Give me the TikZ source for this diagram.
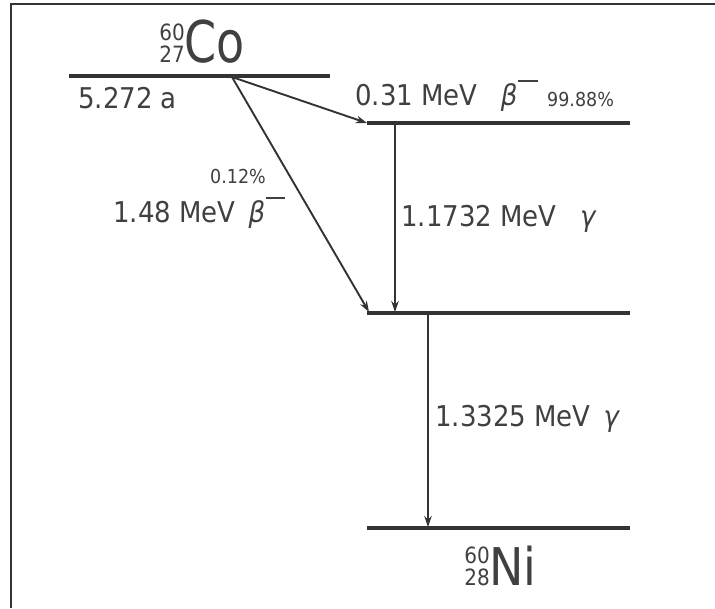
\documentclass[tikz,border=0pt]{standalone}
\usepackage{fontspec}
\setmainfont{DejaVu Sans}
\usetikzlibrary{arrows.meta}
\definecolor{ink}{HTML}{333333}
\definecolor{txt}{HTML}{404040}
\newcommand\ysc[2]{\scalebox{1}[#1]{#2}}
\newcommand\betam{{\itshape β}\kern0.5pt\rule[0.8em]{0.75em}{0.08em}}
\begin{document}
\begin{tikzpicture}[x=1pt,y=-1pt,
  level/.style={draw=ink, line width=3.2pt},
  trans/.style={draw=ink, line width=1.9pt, -{Stealth[length=11pt,width=7.5pt]}},
  lbl/.style={text=txt, inner sep=0pt, font=\fontsize{26}{30}\selectfont},
  small/.style={text=txt, inner sep=0pt, font=\fontsize{17.5}{20}\selectfont},
  iso/.style={text=txt, inner sep=0pt, font=\fontsize{20}{24}\selectfont},
  elem/.style={text=txt, inner sep=0pt, font=\fontsize{46}{50}\selectfont},
  frame/.style={draw=ink, line width=2.8pt}]
\fill[white] (0,0) rectangle (715,608);
\useasboundingbox (0,0) rectangle (715,608);
% frame
\coordinate (fr-tr) at (715,4);
\coordinate (fr-tl) at (11,4);
\coordinate (fr-bl) at (11,608);
\draw[frame] (fr-tr) -- (fr-tl) -- (fr-bl);
% levels
\coordinate (co-l) at (69,76);   \coordinate (co-r) at (330,76);
\coordinate (a-l) at (367,123);  \coordinate (a-r) at (630,123);
\coordinate (b-l) at (367,313);  \coordinate (b-r) at (630,313);
\coordinate (g-l) at (367,528);  \coordinate (g-r) at (630,528);
\draw[level] (co-l) -- (co-r);
\draw[level] (a-l) -- (a-r);
\draw[level] (b-l) -- (b-r);
\draw[level] (g-l) -- (g-r);
% transitions
\coordinate (src) at (232,77);
\coordinate (b-in) at (369,312);
\coordinate (g1-top) at (395,124); \coordinate (g1-bot) at (395,312);
\coordinate (g2-top) at (428,314); \coordinate (g2-bot) at (428,527);
\draw[trans] (src) -- (a-l);
\draw[trans] (src) -- (b-in);
\draw[trans] (g1-top) -- (g1-bot);
\draw[trans] (g2-top) -- (g2-bot);
% element labels
\node[elem, anchor=base west] (co) at (184,62) {\ysc{1.25}{Co}};
\node[iso, anchor=base east] (co-a) at (185,40) {\ysc{1.12}{60}};
\node[iso, anchor=base east] (co-z) at (185,62) {\ysc{1.12}{27}};
\node[elem, anchor=base west] (ni) at (489,585) {\ysc{1.13}{Ni}};
\node[iso, anchor=base east] (ni-a) at (490,563) {\ysc{1.12}{60}};
\node[iso, anchor=base east] (ni-z) at (490,585) {\ysc{1.12}{28}};
% labels
\node[lbl, anchor=base west] (halflife) at (78,108) {\ysc{1.1}{5.272 a}};
\node[lbl, anchor=base west] (e031) at (355,105) {\ysc{1.1}{0.31 MeV\hspace{0.9em}\betam}};
\node[small, anchor=base west] (p9988) at (547,106) {\ysc{1.1}{99.88\%}};
\node[lbl, anchor=base west] (e11732) at (401,226) {\ysc{1.1}{1.1732 MeV\hspace{0.9em}{\itshape γ}}};
\node[small, anchor=base west] (p012) at (210,183) {\ysc{1.1}{0.12\%}};
\node[lbl, anchor=base west] (e148) at (113,222) {\ysc{1.1}{1.48 MeV\hspace{0.5em}\betam}};
\node[lbl, anchor=base west] (e13325) at (435,426) {\ysc{1.1}{1.3325 MeV\hspace{0.5em}{\itshape γ}}};
\end{tikzpicture}
\end{document}
